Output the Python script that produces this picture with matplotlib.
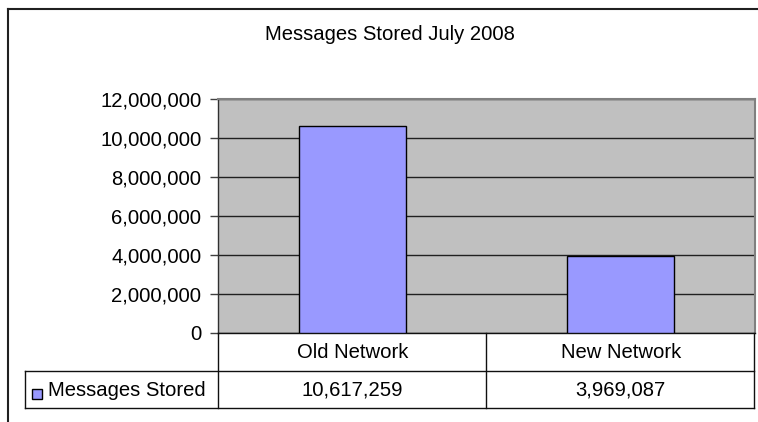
import matplotlib
matplotlib.use("Agg")
import matplotlib.pyplot as plt
from matplotlib.ticker import FuncFormatter
from matplotlib.patches import Rectangle
from matplotlib.lines import Line2D
import matplotlib.transforms as mtransforms

categories = ["Old Network", "New Network"]
values = [10617259, 3969087]
series_name = "Messages Stored"
title = "Messages Stored July 2008"
yticks = [0, 2000000, 4000000, 6000000, 8000000, 10000000, 12000000]

W, H = 758, 422
plt.rcParams['font.family'] = ['Liberation Sans', 'DejaVu Sans']
FS = 14.6
BAR = "#9999FF"

fig = plt.figure(figsize=(W / 100, H / 100), dpi=100)
fig.patch.set_facecolor("white")

def fx(px):
    return px / W

def fy(py):
    return 1 - py / H

# plot area
L, R, T, B = 218, 755, 99, 333
ax = fig.add_axes([fx(L), fy(B), fx(R - L), (B - T) / H])
ax.set_facecolor("#C0C0C0")
x = list(range(len(categories)))
ax.bar(x, values, width=0.4, color=BAR, edgecolor="black", linewidth=1.0, zorder=3)
ax.set_xlim(-0.5, len(categories) - 0.5)
ax.set_ylim(0, 12000000)
ax.set_yticks(yticks)
ax.yaxis.set_major_formatter(FuncFormatter(lambda v, p: f"{int(v):,}"))
ax.tick_params(axis="y", length=6, width=1, color="#404040", labelsize=FS, pad=6)
ax.set_xticks([])
ax.grid(axis="y", color="#202020", linewidth=1, zorder=1)
ax.set_axisbelow(True)
for s in ["top", "right"]:
    ax.spines[s].set_color("#808080")
    ax.spines[s].set_linewidth(1.5)
ax.spines["left"].set_color("#303030")
ax.spines["bottom"].set_color("#101010")
ax.spines["left"].set_linewidth(1)
ax.spines["bottom"].set_linewidth(1)

# title
fig.text(fx(389.5), fy(35), title, ha="center", va="center", fontsize=FS)

# outer chart border
fig.add_artist(Line2D([fx(8), fx(8)], [fy(9), 0], transform=fig.transFigure, color="#202020", lw=1.5))
fig.add_artist(Line2D([fx(8), 1], [fy(9), fy(9)], transform=fig.transFigure, color="#202020", lw=1.5))

# data table
r1, r2, r3 = 333, 371, 408
leg_l, tab_l, mid, tab_r = 25, 218, 486, 754
lc = "#101010"
lw = 1.0
def hline(y, x0, x1):
    fig.add_artist(Line2D([fx(x0), fx(x1)], [fy(y), fy(y)], transform=fig.transFigure, color=lc, lw=lw))
def vline(xp, y0, y1):
    fig.add_artist(Line2D([fx(xp), fx(xp)], [fy(y0), fy(y1)], transform=fig.transFigure, color=lc, lw=lw))

hline(r2, leg_l, tab_r)
hline(r3, leg_l, tab_r)
vline(leg_l, r2, r3)
vline(tab_l, r1, r3)
vline(mid, r1, r3)
vline(tab_r, r1, r3)

blend = mtransforms.blended_transform_factory(ax.transData, fig.transFigure)
for i, (c, v) in enumerate(zip(categories, values)):
    fig.text(i, fy((r1 + r2) / 2), c, transform=blend, ha="center", va="center", fontsize=FS)
    fig.text(i, fy((r2 + r3) / 2), f"{v:,}", transform=blend, ha="center", va="center", fontsize=FS)

# legend key
fig.add_artist(Rectangle((fx(32), fy(399)), fx(10), 10 / H, transform=fig.transFigure,
                         facecolor=BAR, edgecolor="black", lw=1))
fig.text(fx(48), fy((r2 + r3) / 2 + 1), series_name, ha="left", va="center", fontsize=FS)

fig.savefig("out.png", dpi=100)
